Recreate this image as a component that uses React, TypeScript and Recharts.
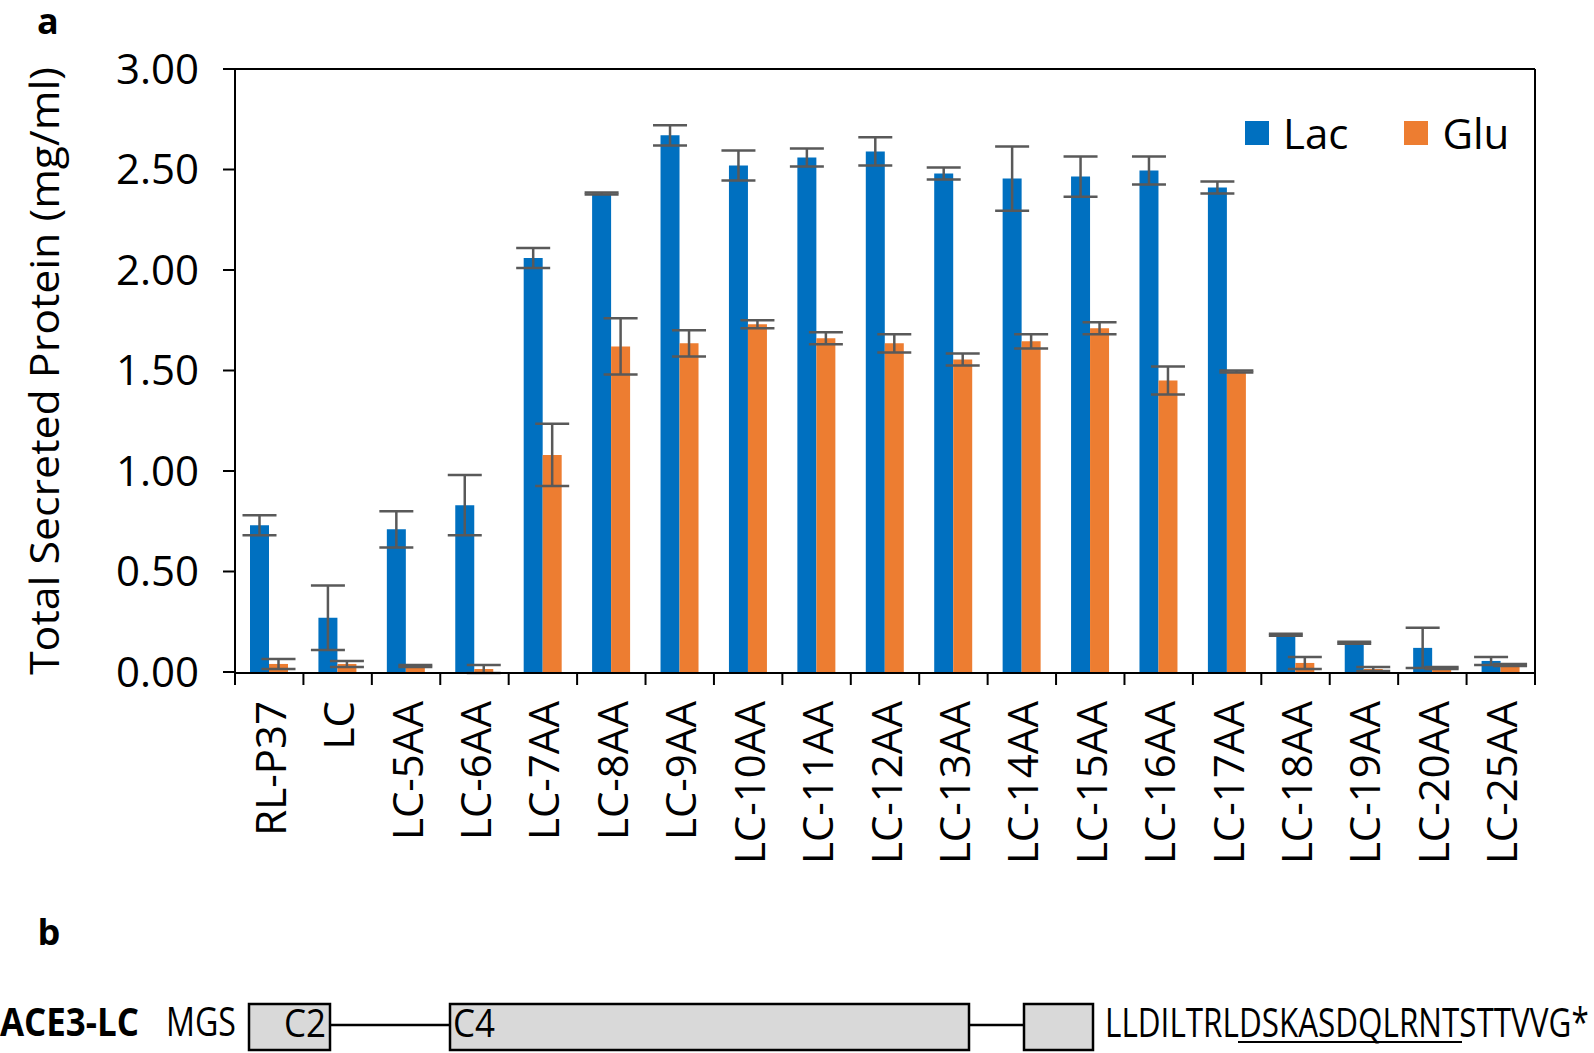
import React from 'react';
import { BarChart, Bar, XAxis, YAxis, ErrorBar, ReferenceLine } from 'recharts';

const strains = [
  'RL-P37', 'LC', 'LC-5AA', 'LC-6AA', 'LC-7AA', 'LC-8AA', 'LC-9AA', 'LC-10AA', 'LC-11AA', 'LC-12AA',
  'LC-13AA', 'LC-14AA', 'LC-15AA', 'LC-16AA', 'LC-17AA', 'LC-18AA', 'LC-19AA', 'LC-20AA', 'LC-25AA',
];
const lacValues = [0.73, 0.27, 0.71, 0.83, 2.06, 2.38, 2.67, 2.52, 2.56, 2.59, 2.48, 2.455, 2.465, 2.495, 2.41, 0.185, 0.145, 0.12, 0.055];
const lacErrors = [0.05, 0.16, 0.09, 0.15, 0.05, 0.005, 0.05, 0.075, 0.045, 0.07, 0.03, 0.16, 0.1, 0.07, 0.03, 0.005, 0.005, 0.1, 0.02];
const gluValues = [0.04, 0.04, 0.03, 0.015, 1.08, 1.62, 1.635, 1.73, 1.66, 1.635, 1.555, 1.645, 1.71, 1.45, 1.495, 0.045, 0.015, 0.02, 0.035];
const gluErrors = [0.025, 0.015, 0.005, 0.02, 0.155, 0.14, 0.065, 0.02, 0.03, 0.045, 0.03, 0.035, 0.03, 0.07, 0.005, 0.03, 0.01, 0.005, 0.005];
const yTicks = [0, 0.5, 1, 1.5, 2, 2.5, 3];

const series = [
  { key: 'lac', name: 'Lac', color: '#0070C0' },
  { key: 'glu', name: 'Glu', color: '#ED7D31' },
];

const data = strains.map((name, i) => ({
  name,
  lac: lacValues[i],
  lacErr: lacErrors[i],
  glu: gluValues[i],
  gluErr: gluErrors[i],
}));

const W = 1594;
const H = 1053;
const CHART_H = 880;
const MARGIN = { top: 69, right: 59, left: 0, bottom: 0 };
const Y_AXIS_W = 235;
const X_AXIS_H = 207;
const FONT = '"Open Sans", sans-serif';

// band width of one category, used to put x ticks on category edges (Excel style)
const band = (W - MARGIN.right - Y_AXIS_W) / strains.length;

function XTick(props: any) {
  const { x, y, payload, index } = props;
  const ty = y + 28;
  return (
    <g>
      <line x1={x - band / 2} x2={x - band / 2} y1={y} y2={y + 12} stroke="#000" strokeWidth={2} />
      {index === strains.length - 1 && (
        <line x1={x + band / 2} x2={x + band / 2} y1={y} y2={y + 12} stroke="#000" strokeWidth={2} />
      )}
      <text
        x={x}
        y={ty}
        transform={`rotate(-90 ${x} ${ty})`}
        textAnchor="end"
        dominantBaseline="central"
        fontSize={42}
        fontFamily={FONT}
        fill="#000"
      >
        {payload.value}
      </text>
    </g>
  );
}

function YTitle(props: any) {
  const { viewBox } = props;
  const cy = viewBox.y + viewBox.height / 2;
  return (
    <text
      x={43}
      y={cy}
      transform={`rotate(-90 43 ${cy})`}
      textAnchor="middle"
      dominantBaseline="central"
      fontSize={40}
      fontFamily={FONT}
      textLength={608}
      lengthAdjust="spacingAndGlyphs"
      fill="#000"
    >
      Total Secreted Protein (mg/ml)
    </text>
  );
}

export default function App() {
  return (
    <div style={{ position: 'absolute', left: 0, top: 0, width: W, height: H, background: '#fff', overflow: 'hidden' }}>
      <BarChart width={W} height={CHART_H} data={data} margin={MARGIN} barSize={19} barGap={0}>
        <XAxis
          dataKey="name"
          height={X_AXIS_H}
          interval={0}
          tickSize={0}
          tickMargin={0}
          tick={<XTick />}
          axisLine={{ stroke: '#000', strokeWidth: 2 }}
        />
        <YAxis
          width={Y_AXIS_W}
          domain={[0, 3]}
          ticks={yTicks}
          tickFormatter={(v: number) => v.toFixed(2)}
          tickSize={12}
          tickMargin={24}
          tickLine={{ stroke: '#000', strokeWidth: 2 }}
          axisLine={{ stroke: '#000', strokeWidth: 2 }}
          tick={{ fontSize: 42, fontFamily: FONT, fill: '#000' }}
          label={{ content: <YTitle /> }}
        />
        {/* plot frame: top and right edges */}
        <ReferenceLine y={3} stroke="#000" strokeWidth={2} />
        <ReferenceLine x={strains[strains.length - 1]} position="end" stroke="#000" strokeWidth={2} />
        {series.map((s) => (
          <Bar key={s.key} dataKey={s.key} name={s.name} fill={s.color} isAnimationActive={false}>
            <ErrorBar dataKey={`${s.key}Err`} width={17} stroke="#595959" strokeWidth={2.5} direction="y" />
          </Bar>
        ))}
      </BarChart>

      {/* legend inside plot, top right */}
      <div style={{ position: 'absolute', left: 1245, top: 112, display: 'flex', alignItems: 'center', fontFamily: FONT, fontSize: 42 }}>
        {series.map((s, i) => (
          <div key={s.key} style={{ display: 'flex', alignItems: 'center', marginRight: i === 0 ? 56 : 0 }}>
            <div style={{ width: 24, height: 24, background: s.color, marginRight: 14 }} />
            <span style={{ lineHeight: '42px' }}>{s.name}</span>
          </div>
        ))}
      </div>

      {/* panel label a (tight line box so it sits at the very top) */}
      <div
        style={{
          position: 'absolute',
          left: 37,
          top: 9,
          width: 20,
          height: 24,
          lineHeight: '24px',
          fontSize: 36,
          fontWeight: 'bold',
          fontFamily: FONT,
          textAlign: 'center',
        }}
      >
        a
      </div>

      {/* panel label b and the ACE3-LC schematic */}
      <svg width={W} height={H} style={{ position: 'absolute', left: 0, top: 0, pointerEvents: 'none' }}>
        <text x={49} y={945} textAnchor="middle" fontSize={36} fontWeight="bold" fontFamily={FONT}>b</text>

        <text x={0} y={1036} fontSize={40} fontWeight="bold" fontFamily={FONT} textLength={139} lengthAdjust="spacingAndGlyphs">ACE3-LC</text>
        <text x={166} y={1036} fontSize={40} fontFamily={FONT} textLength={70} lengthAdjust="spacingAndGlyphs">MGS</text>

        <line x1={330} x2={450} y1={1025} y2={1025} stroke="#000" strokeWidth={2.5} />
        <line x1={969} x2={1024} y1={1025} y2={1025} stroke="#000" strokeWidth={2.5} />
        <rect x={249} y={1004} width={81} height={46} fill="#D9D9D9" stroke="#000" strokeWidth={2.5} />
        <rect x={450} y={1004} width={519} height={46} fill="#D9D9D9" stroke="#000" strokeWidth={2.5} />
        <rect x={1024} y={1004} width={69} height={46} fill="#D9D9D9" stroke="#000" strokeWidth={2.5} />
        <text x={326} y={1037} textAnchor="end" fontSize={38} fontFamily={FONT} textLength={42} lengthAdjust="spacingAndGlyphs">C2</text>
        <text x={453} y={1037} fontSize={38} fontFamily={FONT} textLength={42} lengthAdjust="spacingAndGlyphs">C4</text>

        {/* condensed sequence: scaled horizontally so its box stays inside the page */}
        <text
          transform="translate(1105 1037) scale(0.75 1)"
          x={0}
          y={0}
          fontSize={40}
          fontFamily={FONT}
          textLength={645}
          lengthAdjust="spacingAndGlyphs"
        >
          LLDILTRLDSKASDQLRNTSTTVVG*
        </text>
        <line x1={1238} x2={1462} y1={1042} y2={1042} stroke="#000" strokeWidth={2} />
      </svg>
    </div>
  );
}
